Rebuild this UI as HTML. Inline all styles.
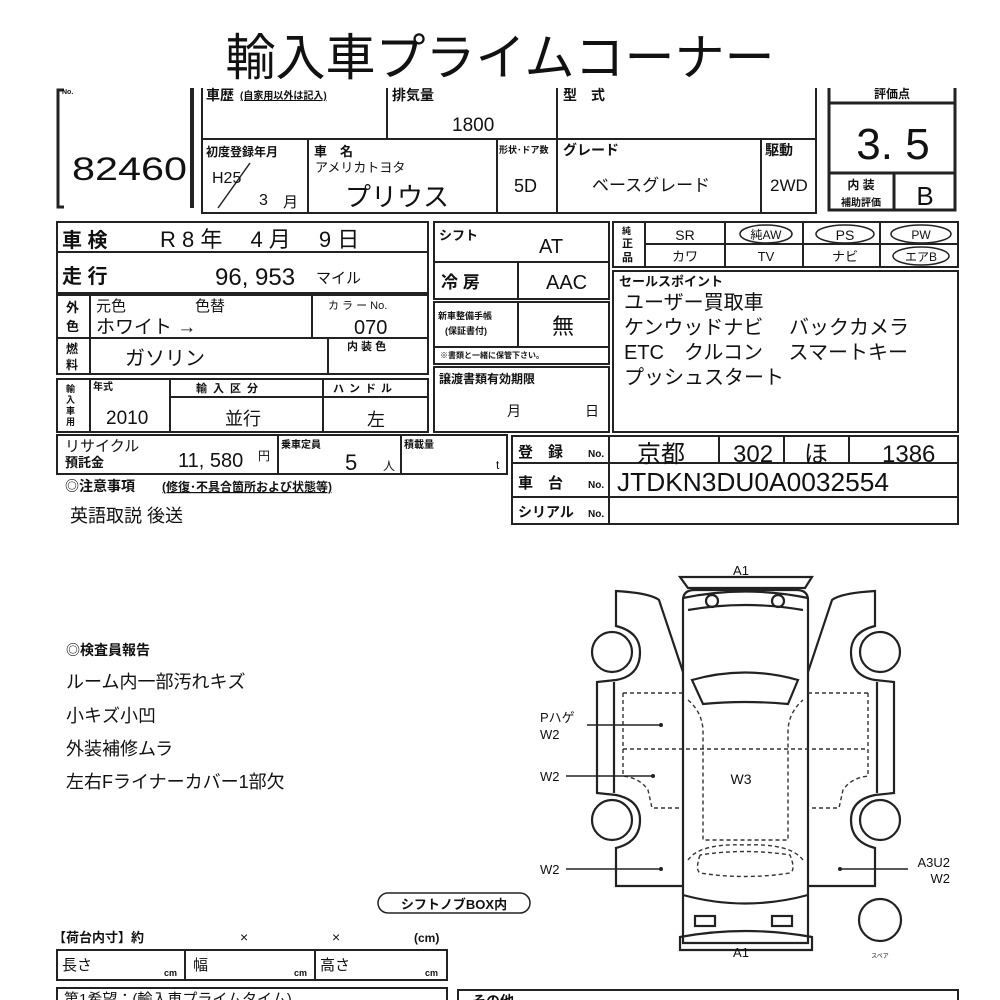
<!DOCTYPE html>
<html><head><meta charset="utf-8"><style>
html,body{margin:0;padding:0;background:#fff;width:1000px;height:1000px;overflow:hidden}
svg text{font-family:"Liberation Sans","Noto Sans CJK JP",sans-serif;fill:#111}
.b{font-weight:bold}
.n{font-family:"Liberation Sans Narrow","Liberation Sans","Noto Sans CJK JP",sans-serif}
</style></head><body>
<svg width="1000" height="1000" viewBox="0 0 1000 1000" xmlns="http://www.w3.org/2000/svg">
<g stroke="#222" fill="none" stroke-width="2">
<!-- header -->
<polyline points="64,90 58,90 58,207 64,207" stroke-width="3"/>
<line x1="192" y1="88" x2="192" y2="208" stroke-width="4"/>
<polyline points="202,88 202,213 816,213 816,88"/>
<line x1="202" y1="139" x2="816" y2="139"/>
<line x1="387" y1="88" x2="387" y2="139"/>
<line x1="557" y1="88" x2="557" y2="213"/>
<line x1="308" y1="139" x2="308" y2="213"/>
<line x1="497" y1="139" x2="497" y2="213"/>
<line x1="761" y1="139" x2="761" y2="213"/>
<line x1="218" y1="208" x2="250" y2="163" stroke-width="1.5"/>
<!-- score -->
<polyline points="829,88 829,210 955,210 955,88" stroke-width="3"/>
<line x1="829" y1="103" x2="955" y2="103" stroke-width="3"/>
<line x1="829" y1="173" x2="955" y2="173" stroke-width="3"/>
<line x1="894" y1="173" x2="894" y2="210" stroke-width="3"/>
<!-- left block -->
<rect x="57" y="222" width="371" height="71"/>
<line x1="57" y1="252" x2="428" y2="252"/>
<rect x="57" y="295" width="371" height="79"/>
<line x1="57" y1="338" x2="428" y2="338"/>
<line x1="90" y1="295" x2="90" y2="374"/>
<line x1="312" y1="295" x2="312" y2="338"/>
<line x1="328" y1="338" x2="328" y2="374"/>
<rect x="57" y="379" width="371" height="53"/>
<line x1="90" y1="379" x2="90" y2="432"/>
<line x1="170" y1="379" x2="170" y2="432"/>
<line x1="323" y1="379" x2="323" y2="432"/>
<line x1="170" y1="397" x2="428" y2="397"/>
<rect x="57" y="435" width="450" height="39"/>
<line x1="278" y1="435" x2="278" y2="474"/>
<line x1="401" y1="435" x2="401" y2="474"/>
<!-- middle -->
<rect x="434" y="222" width="175" height="77"/>
<line x1="434" y1="262" x2="609" y2="262"/>
<line x1="518" y1="262" x2="518" y2="299"/>
<rect x="434" y="302" width="175" height="62"/>
<line x1="518" y1="302" x2="518" y2="347"/>
<line x1="434" y1="347" x2="609" y2="347"/>
<rect x="434" y="367" width="175" height="65"/>
<!-- right -->
<rect x="613" y="222" width="345" height="45"/>
<line x1="645" y1="222" x2="645" y2="267"/>
<line x1="645" y1="244" x2="958" y2="244"/>
<line x1="725" y1="222" x2="725" y2="267"/>
<line x1="803" y1="222" x2="803" y2="267"/>
<line x1="880" y1="222" x2="880" y2="267"/>
<ellipse cx="766" cy="234" rx="26" ry="9" stroke-width="1.5"/>
<ellipse cx="845" cy="234" rx="29" ry="9" stroke-width="1.5"/>
<ellipse cx="921" cy="234" rx="30" ry="9" stroke-width="1.5"/>
<ellipse cx="921" cy="256" rx="28" ry="9" stroke-width="1.5"/>
<rect x="613" y="271" width="345" height="161"/>
<!-- registration -->
<rect x="512" y="436" width="446" height="88"/>
<line x1="512" y1="463" x2="958" y2="463"/>
<line x1="512" y1="497" x2="958" y2="497"/>
<line x1="609" y1="436" x2="609" y2="524"/>
<line x1="719" y1="436" x2="719" y2="463"/>
<line x1="784" y1="436" x2="784" y2="463"/>
<line x1="849" y1="436" x2="849" y2="463"/>
<!-- bottom boxes -->
<rect x="57" y="950" width="390" height="30"/>
<line x1="185" y1="950" x2="185" y2="980"/>
<line x1="315" y1="950" x2="315" y2="980"/>
<rect x="57" y="988" width="390" height="30"/>
<rect x="458" y="990" width="500" height="30"/>
<rect x="378" y="893" width="152" height="20" rx="10" stroke-width="1.5"/>
</g>

<!-- car diagram -->
<g stroke="#222" fill="none" stroke-width="2.2">
<path d="M683,943 L683,600 Q683,590 695,590 L796,590 Q808,590 808,600 L808,943 Z"/>
<path d="M680,577 L812,577 L805,588 L688,588 Z"/>
<path d="M683,598 Q745,585 808,598"/>
<path d="M688,610 Q745,600 803,610"/>
<circle cx="712" cy="601" r="6"/><circle cx="778" cy="601" r="6"/>
<path d="M692,680 Q745,665 798,680 L788,704 Q745,700 703,704 Z"/>
<path d="M683,895 Q745,912 808,895"/>
<rect x="695" y="916" width="20" height="10"/><rect x="772" y="916" width="20" height="10"/>
<path d="M680,937 Q745,925 812,937 L812,950 L680,950 Z"/>
<!-- left door -->
<path d="M683,672 L659,600 Q650,593 616,591 L616,626 Q640,632 640,652 Q640,676 616,680 L597,682 L597,793 L616,795 Q640,800 640,820 Q640,842 616,848 L616,886 L683,886"/>
<circle cx="612" cy="652" r="20"/><circle cx="612" cy="820" r="20"/>
<line x1="614" y1="682" x2="614" y2="793"/>
<!-- right door -->
<path d="M808,672 L832,600 Q841,593 875,591 L875,626 Q851,632 851,652 Q851,676 875,680 L894,682 L894,793 L875,795 Q851,800 851,820 Q851,842 875,848 L875,886 L808,886"/>
<circle cx="880" cy="652" r="20"/><circle cx="880" cy="820" r="20"/>
<line x1="877" y1="682" x2="877" y2="793"/>
<circle cx="880" cy="920" r="21"/>
</g>
<g stroke="#333" fill="none" stroke-width="1.4" stroke-dasharray="4,3">
<path d="M623,693 L683,693 M623,693 L623,776 Q640,778 648,790 L652,808 L683,808"/>
<line x1="623" y1="749" x2="868" y2="749"/>
<path d="M868,693 L808,693 M868,693 L868,776 Q851,778 843,790 L839,808 L808,808"/>
<path d="M688,700 Q702,712 703,730 L703,840 L788,840 L788,730 Q789,712 803,700"/>
<path d="M688,860 Q700,843 745,845 Q790,843 803,860 M700,855 Q695,870 700,873 Q745,880 790,873 Q796,870 790,855 Q745,848 700,855"/>
</g>
<g stroke="#222" stroke-width="1.5">
<line x1="587" y1="725" x2="660" y2="725"/>
<line x1="566" y1="776" x2="652" y2="776"/>
<line x1="566" y1="869" x2="661" y2="869"/>
<line x1="840" y1="869" x2="908" y2="869"/>
</g>
<g fill="#222"><circle cx="661" cy="725" r="2"/><circle cx="653" cy="776" r="2"/><circle cx="661" cy="869" r="2"/><circle cx="840" cy="869" r="2"/></g>

<!-- text -->
<text x="500" y="75" font-size="50" text-anchor="middle">輸入車プライムコーナー</text>
<text x="62" y="94" font-size="7" class="b">No.</text>
<text x="72" y="180" font-size="32" textLength="115" lengthAdjust="spacingAndGlyphs">82460</text>
<text x="206" y="100" font-size="14" class="b">車歴</text>
<text x="240" y="99" font-size="10" class="b" text-decoration="underline">(自家用以外は記入)</text>
<text x="392" y="100" font-size="14" class="b">排気量</text>
<text x="452" y="131" font-size="19">1800</text>
<text x="563" y="100" font-size="14" class="b">型　式</text>
<text x="206" y="156" font-size="12" class="b">初度登録年月</text>
<text x="212" y="183" font-size="16">H25</text>
<text x="259" y="205" font-size="16">3</text><text x="283" y="207" font-size="15">月</text>
<text x="314" y="156" font-size="13" class="b">車　名</text>
<text x="315" y="172" font-size="13">アメリカトヨタ</text>
<text x="345" y="206" font-size="26">プリウス</text>
<text x="499" y="153" font-size="9" class="b">形状･ドア数</text>
<text x="514" y="192" font-size="18">5D</text>
<text x="563" y="155" font-size="14" class="b">グレード</text>
<text x="592" y="191" font-size="17">ベースグレード</text>
<text x="765" y="155" font-size="14" class="b">駆動</text>
<text x="770" y="191" font-size="17">2WD</text>
<text x="892" y="98" font-size="12" class="b" text-anchor="middle">評価点</text>
<text x="893" y="159" font-size="44" text-anchor="middle">3. 5</text>
<text x="861" y="189" font-size="12" class="b" text-anchor="middle">内 装</text>
<text x="861" y="206" font-size="10" class="b" text-anchor="middle">補助評価</text>
<text x="925" y="205" font-size="26" text-anchor="middle">B</text>

<text x="62" y="247" font-size="20" class="b">車 検</text>
<text x="160" y="247" font-size="22">R 8 年　 4 月　 9 日</text>
<text x="62" y="283" font-size="20" class="b">走 行</text>
<text x="215" y="285" font-size="24">96, 953</text><text x="316" y="283" font-size="15">マイル</text>
<text x="66" y="312" font-size="13" class="b">外</text><text x="66" y="331" font-size="13" class="b">色</text>
<text x="96" y="311" font-size="15">元色</text><text x="195" y="311" font-size="15">色替</text>
<text x="96" y="333" font-size="19">ホワイト →</text>
<text x="328" y="309" font-size="11">カ ラ ー No.</text>
<text x="354" y="334" font-size="20">070</text>
<text x="66" y="353" font-size="12" class="b">燃</text><text x="66" y="369" font-size="12" class="b">料</text>
<text x="125" y="365" font-size="20">ガソリン</text>
<text x="347" y="350" font-size="11" class="b">内 装 色</text>
<text x="66" y="392" font-size="9" class="b">輸</text><text x="66" y="403" font-size="9" class="b">入</text><text x="66" y="414" font-size="9" class="b">車</text><text x="66" y="425" font-size="9" class="b">用</text>
<text x="93" y="390" font-size="10" class="b">年式</text>
<text x="106" y="424" font-size="19">2010</text>
<text x="196" y="392" font-size="11" class="b" letter-spacing="6">輸入区分</text>
<text x="225" y="425" font-size="18">並行</text>
<text x="333" y="392" font-size="11" class="b" letter-spacing="5">ハンドル</text>
<text x="367" y="426" font-size="18">左</text>
<text x="65" y="451" font-size="15">リサイクル</text><text x="65" y="467" font-size="13" class="b">預託金</text>
<text x="178" y="467" font-size="20">11, 580</text><text x="258" y="460" font-size="12">円</text>
<text x="281" y="448" font-size="10" class="b">乗車定員</text>
<text x="345" y="470" font-size="22">5</text><text x="383" y="470" font-size="12">人</text>
<text x="404" y="448" font-size="10" class="b">積載量</text>
<text x="496" y="469" font-size="12">t</text>
<text x="65" y="491" font-size="14" class="b">◎注意事項</text><text x="162" y="491" font-size="12" class="b" text-decoration="underline">(修復･不具合箇所および状態等)</text>
<text x="70" y="522" font-size="18">英語取説 後送</text>

<text x="439" y="240" font-size="13" class="b">シフト</text>
<text x="539" y="253" font-size="20">AT</text>
<text x="441" y="288" font-size="17" class="b">冷 房</text>
<text x="546" y="289" font-size="20">AAC</text>
<text x="438" y="319" font-size="9" class="b">新車整備手帳</text>
<text x="445" y="334" font-size="9" class="b">(保証書付)</text>
<text x="552" y="334" font-size="22">無</text>
<text x="440" y="358" font-size="8" class="b">※書類と一緒に保管下さい。</text>
<text x="439" y="383" font-size="12" class="b">譲渡書類有効期限</text>
<text x="507" y="416" font-size="14">月</text><text x="585" y="416" font-size="14">日</text>

<text x="622" y="234" font-size="9" class="b">純</text><text x="622" y="247" font-size="11" class="b">正</text><text x="622" y="261" font-size="11" class="b">品</text>
<text x="685" y="240" font-size="14" text-anchor="middle">SR</text>
<text x="766" y="239" font-size="12" text-anchor="middle">純AW</text>
<text x="845" y="240" font-size="14" text-anchor="middle">PS</text>
<text x="921" y="239" font-size="12" text-anchor="middle">PW</text>
<text x="685" y="261" font-size="13" text-anchor="middle">カワ</text>
<text x="766" y="261" font-size="13" text-anchor="middle">TV</text>
<text x="845" y="261" font-size="13" text-anchor="middle">ナビ</text>
<text x="921" y="261" font-size="12" text-anchor="middle">エアB</text>
<text x="619" y="286" font-size="13" class="b">セールスポイント</text>
<text x="624" y="309" font-size="20">ユーザー買取車</text>
<text x="624" y="334" font-size="20">ケンウッドナビ　 バックカメラ</text>
<text x="624" y="359" font-size="20">ETC　クルコン　 スマートキー</text>
<text x="624" y="384" font-size="20">プッシュスタート</text>

<text x="518" y="457" font-size="15" class="b">登　録</text><text x="588" y="457" font-size="10" class="b">No.</text>
<text x="518" y="488" font-size="15" class="b">車　台</text><text x="588" y="488" font-size="10" class="b">No.</text>
<text x="518" y="517" font-size="14" class="b">シリアル</text><text x="588" y="517" font-size="10" class="b">No.</text>
<text x="637" y="462" font-size="24">京都</text>
<text x="733" y="462" font-size="24">302</text>
<text x="804" y="462" font-size="24">ほ</text>
<text x="882" y="462" font-size="24">1386</text>
<text x="617" y="491" font-size="26" textLength="272" lengthAdjust="spacingAndGlyphs">JTDKN3DU0A0032554</text>

<text x="66" y="655" font-size="14" class="b">◎検査員報告</text>
<text x="66" y="688" font-size="18">ルーム内一部汚れキズ</text>
<text x="66" y="722" font-size="18">小キズ小凹</text>
<text x="66" y="755" font-size="18">外装補修ムラ</text>
<text x="66" y="788" font-size="18">左右Fライナーカバー1部欠</text>

<text x="741" y="575" font-size="13" text-anchor="middle">A1</text>
<text x="741" y="957" font-size="13" text-anchor="middle">A1</text>
<text x="540" y="722" font-size="13">Pハゲ</text>
<text x="540" y="739" font-size="13">W2</text>
<text x="540" y="781" font-size="13">W2</text>
<text x="741" y="784" font-size="14" text-anchor="middle">W3</text>
<text x="540" y="874" font-size="13">W2</text>
<text x="950" y="867" font-size="13" text-anchor="end">A3U2</text>
<text x="950" y="883" font-size="13" text-anchor="end">W2</text>
<text x="880" y="958" font-size="6" text-anchor="middle">スペア</text>

<text x="454" y="909" font-size="13" class="b" text-anchor="middle">シフトノブBOX内</text>
<text x="53" y="942" font-size="13" class="b">【荷台内寸】約</text>
<text x="240" y="942" font-size="14">×</text>
<text x="332" y="942" font-size="14">×</text>
<text x="414" y="942" font-size="12" class="b">(cm)</text>
<text x="62" y="970" font-size="15">長さ</text><text x="164" y="976" font-size="9" class="b">cm</text>
<text x="193" y="970" font-size="15">幅</text><text x="294" y="976" font-size="9" class="b">cm</text>
<text x="320" y="970" font-size="15">高さ</text><text x="425" y="976" font-size="9" class="b">cm</text>
<text x="64" y="1004" font-size="15">第1希望：(輸入車プライムタイム)</text>
<text x="472" y="1006" font-size="14" class="b">その他</text>
</svg>
</body></html>
